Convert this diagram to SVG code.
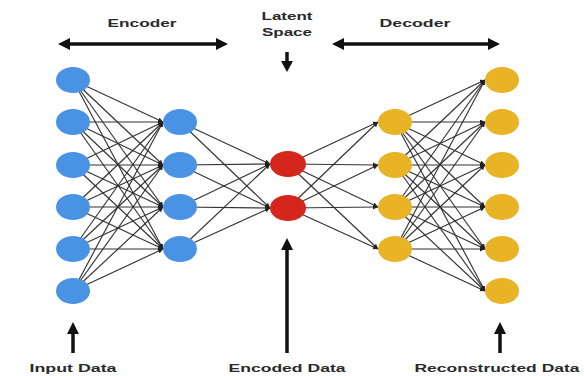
<svg xmlns="http://www.w3.org/2000/svg" width="584" height="376" viewBox="0 0 584 376">
<style>
.lbl{font-family:"Liberation Sans",Arial,sans-serif;font-weight:bold;font-size:11.5px;fill:#2a2a2a;text-anchor:middle}
.e{stroke:#333;stroke-width:1.15;marker-end:url(#ah)}
.big{stroke:#111;stroke-width:3.5;fill:none}
.hd{fill:#111}
.b{fill:#4a93e4}
.r{fill:#d4261c}
.y{fill:#e8b325}
</style>
<defs>
<marker id="ah" markerUnits="userSpaceOnUse" markerWidth="6" markerHeight="6" refX="5" refY="2.5" orient="auto">
<path d="M0,0 L5,2.5 L0,5 Z" fill="#222"/>
</marker>
</defs>
<rect width="584" height="376" fill="#fff"/>
<g id="labels">
<text class="lbl" x="142" y="27" textLength="69" lengthAdjust="spacingAndGlyphs">Encoder</text>
<text class="lbl" x="415" y="27" textLength="71" lengthAdjust="spacingAndGlyphs">Decoder</text>
<text class="lbl" x="287" y="20" textLength="51" lengthAdjust="spacingAndGlyphs">Latent</text>
<text class="lbl" x="287" y="36" textLength="50" lengthAdjust="spacingAndGlyphs">Space</text>
<text class="lbl" x="73" y="372" textLength="87" lengthAdjust="spacingAndGlyphs">Input Data</text>
<text class="lbl" x="287" y="372" textLength="117" lengthAdjust="spacingAndGlyphs">Encoded Data</text>
<text class="lbl" x="497" y="372" textLength="165" lengthAdjust="spacingAndGlyphs">Reconstructed Data</text>
</g>
<g id="big-arrows">
<line class="big" x1="68" y1="44" x2="218" y2="44"/>
<polygon class="hd" points="58,44 70,38 70,50"/>
<polygon class="hd" points="228,44 216,38 216,50"/>
<line class="big" x1="342" y1="44" x2="490" y2="44"/>
<polygon class="hd" points="332,44 344,38 344,50"/>
<polygon class="hd" points="500,44 488,38 488,50"/>
<line class="big" x1="287" y1="52" x2="287" y2="64"/>
<polygon class="hd" points="287,72 281,61 293,61"/>
<line class="big" x1="73" y1="353" x2="73" y2="332"/>
<polygon class="hd" points="73,322 67,334 79,334"/>
<line class="big" x1="287" y1="353" x2="287" y2="248"/>
<polygon class="hd" points="287,238 281,250 293,250"/>
<line class="big" x1="500" y1="353" x2="500" y2="332"/>
<polygon class="hd" points="500,322 494,334 506,334"/>
</g>
<g id="connectors">
<line class="e" x1="73" y1="80" x2="163" y2="122"/><line class="e" x1="73" y1="80" x2="163" y2="165"/><line class="e" x1="73" y1="80" x2="163" y2="207"/><line class="e" x1="73" y1="80" x2="163" y2="249"/>
<line class="e" x1="73" y1="122" x2="163" y2="122"/><line class="e" x1="73" y1="122" x2="163" y2="165"/><line class="e" x1="73" y1="122" x2="163" y2="207"/><line class="e" x1="73" y1="122" x2="163" y2="249"/>
<line class="e" x1="73" y1="165" x2="163" y2="122"/><line class="e" x1="73" y1="165" x2="163" y2="165"/><line class="e" x1="73" y1="165" x2="163" y2="207"/><line class="e" x1="73" y1="165" x2="163" y2="249"/>
<line class="e" x1="73" y1="207" x2="163" y2="122"/><line class="e" x1="73" y1="207" x2="163" y2="165"/><line class="e" x1="73" y1="207" x2="163" y2="207"/><line class="e" x1="73" y1="207" x2="163" y2="249"/>
<line class="e" x1="73" y1="249" x2="163" y2="122"/><line class="e" x1="73" y1="249" x2="163" y2="165"/><line class="e" x1="73" y1="249" x2="163" y2="207"/><line class="e" x1="73" y1="249" x2="163" y2="249"/>
<line class="e" x1="73" y1="291" x2="163" y2="122"/><line class="e" x1="73" y1="291" x2="163" y2="165"/><line class="e" x1="73" y1="291" x2="163" y2="207"/><line class="e" x1="73" y1="291" x2="163" y2="249"/>
<line class="e" x1="180" y1="122" x2="270" y2="164"/><line class="e" x1="180" y1="122" x2="270" y2="208"/>
<line class="e" x1="180" y1="165" x2="270" y2="164"/><line class="e" x1="180" y1="165" x2="270" y2="208"/>
<line class="e" x1="180" y1="207" x2="270" y2="164"/><line class="e" x1="180" y1="207" x2="270" y2="208"/>
<line class="e" x1="180" y1="249" x2="270" y2="164"/><line class="e" x1="180" y1="249" x2="270" y2="208"/>
<line class="e" x1="288" y1="164" x2="378" y2="122"/><line class="e" x1="288" y1="164" x2="378" y2="165"/><line class="e" x1="288" y1="164" x2="378" y2="207"/><line class="e" x1="288" y1="164" x2="378" y2="249"/>
<line class="e" x1="288" y1="208" x2="378" y2="122"/><line class="e" x1="288" y1="208" x2="378" y2="165"/><line class="e" x1="288" y1="208" x2="378" y2="207"/><line class="e" x1="288" y1="208" x2="378" y2="249"/>
<line class="e" x1="395" y1="122" x2="485" y2="80"/><line class="e" x1="395" y1="122" x2="485" y2="122"/><line class="e" x1="395" y1="122" x2="485" y2="165"/><line class="e" x1="395" y1="122" x2="485" y2="207"/><line class="e" x1="395" y1="122" x2="485" y2="249"/><line class="e" x1="395" y1="122" x2="485" y2="291"/>
<line class="e" x1="395" y1="165" x2="485" y2="80"/><line class="e" x1="395" y1="165" x2="485" y2="122"/><line class="e" x1="395" y1="165" x2="485" y2="165"/><line class="e" x1="395" y1="165" x2="485" y2="207"/><line class="e" x1="395" y1="165" x2="485" y2="249"/><line class="e" x1="395" y1="165" x2="485" y2="291"/>
<line class="e" x1="395" y1="207" x2="485" y2="80"/><line class="e" x1="395" y1="207" x2="485" y2="122"/><line class="e" x1="395" y1="207" x2="485" y2="165"/><line class="e" x1="395" y1="207" x2="485" y2="207"/><line class="e" x1="395" y1="207" x2="485" y2="249"/><line class="e" x1="395" y1="207" x2="485" y2="291"/>
<line class="e" x1="395" y1="249" x2="485" y2="80"/><line class="e" x1="395" y1="249" x2="485" y2="122"/><line class="e" x1="395" y1="249" x2="485" y2="165"/><line class="e" x1="395" y1="249" x2="485" y2="207"/><line class="e" x1="395" y1="249" x2="485" y2="249"/><line class="e" x1="395" y1="249" x2="485" y2="291"/>
</g>
<g id="input-layer">
<g id="in1"><ellipse class="b" cx="73" cy="80" rx="17" ry="13"/></g>
<g id="in2"><ellipse class="b" cx="73" cy="122" rx="17" ry="13"/></g>
<g id="in3"><ellipse class="b" cx="73" cy="165" rx="17" ry="13"/></g>
<g id="in4"><ellipse class="b" cx="73" cy="207" rx="17" ry="13"/></g>
<g id="in5"><ellipse class="b" cx="73" cy="249" rx="17" ry="13"/></g>
<g id="in6"><ellipse class="b" cx="73" cy="291" rx="17" ry="13"/></g>
</g>
<g id="encoder-layer">
<g id="enc1"><ellipse class="b" cx="180" cy="122" rx="17" ry="13"/></g>
<g id="enc2"><ellipse class="b" cx="180" cy="165" rx="17" ry="13"/></g>
<g id="enc3"><ellipse class="b" cx="180" cy="207" rx="17" ry="13"/></g>
<g id="enc4"><ellipse class="b" cx="180" cy="249" rx="17" ry="13"/></g>
</g>
<g id="latent-layer">
<g id="lat1"><ellipse class="r" cx="288" cy="164" rx="18" ry="13"/></g>
<g id="lat2"><ellipse class="r" cx="288" cy="208" rx="18" ry="13"/></g>
</g>
<g id="decoder-layer">
<g id="dec1"><ellipse class="y" cx="395" cy="122" rx="17" ry="13"/></g>
<g id="dec2"><ellipse class="y" cx="395" cy="165" rx="17" ry="13"/></g>
<g id="dec3"><ellipse class="y" cx="395" cy="207" rx="17" ry="13"/></g>
<g id="dec4"><ellipse class="y" cx="395" cy="249" rx="17" ry="13"/></g>
</g>
<g id="output-layer">
<g id="out1"><ellipse class="y" cx="502" cy="80" rx="17" ry="13"/></g>
<g id="out2"><ellipse class="y" cx="502" cy="122" rx="17" ry="13"/></g>
<g id="out3"><ellipse class="y" cx="502" cy="165" rx="17" ry="13"/></g>
<g id="out4"><ellipse class="y" cx="502" cy="207" rx="17" ry="13"/></g>
<g id="out5"><ellipse class="y" cx="502" cy="249" rx="17" ry="13"/></g>
<g id="out6"><ellipse class="y" cx="502" cy="291" rx="17" ry="13"/></g>
</g>
</svg>
